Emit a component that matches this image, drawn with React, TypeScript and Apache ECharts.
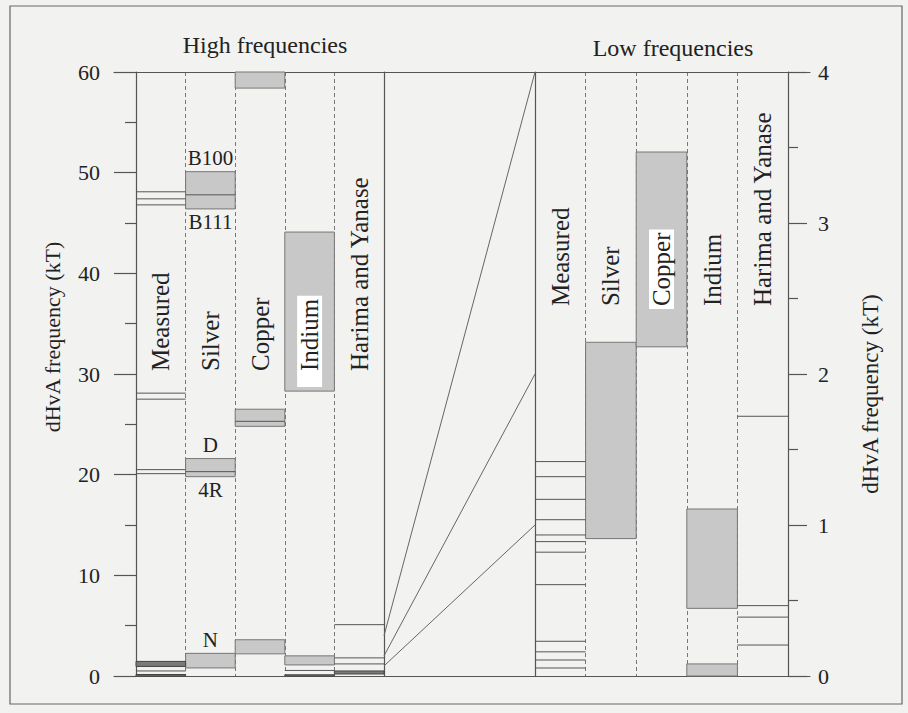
import React, { useEffect, useRef } from "react";
import * as echarts from "echarts";

// ---------- data ----------
const highColumns = ["Measured", "Silver", "Copper", "Indium", "Harima and Yanase"];
const lowColumns = ["Measured", "Silver", "Copper", "Indium", "Harima and Yanase"];

const HIGH_MAX = 60; // kT, left scale
const LOW_MAX = 4; // kT, right scale

// [column, from kT, to kT] — grey bands, high-frequency panel
const highBoxes: number[][] = [
  [1, 46.4, 50.1],
  [1, 19.8, 21.6],
  [1, 0.8, 2.25],
  [2, 58.4, 60],
  [2, 24.8, 26.5],
  [2, 2.2, 3.6],
  [3, 28.3, 44.1],
  [3, 1.1, 2.0],
];
// dark bands, high-frequency panel
const highDarkBoxes: number[][] = [
  [0, 0.95, 1.45],
  [0, 0, 0.15],
  [3, 0, 0.12],
  [4, 0.2, 0.5],
];
// [column, kT] — single frequencies, high-frequency panel
const highLines: number[][] = [
  [0, 48.1], [0, 47.4], [0, 46.8],
  [0, 28.1], [0, 27.5],
  [0, 20.5], [0, 20.1],
  [0, 0.5],
  [1, 47.8], [1, 20.3],
  [2, 25.3],
  [3, 0.55],
  [4, 5.1], [4, 1.8], [4, 1.2],
];
// [column, kT, text, position]
const highBoxLabels: [number, number, string, string][] = [
  [1, 50.1, "B100", "above"],
  [1, 46.4, "B111", "below"],
  [1, 21.6, "D", "above"],
  [1, 19.8, "4R", "below"],
  [1, 2.25, "N", "above"],
];

// low-frequency panel
const lowBoxes: number[][] = [
  [1, 0.91, 2.21],
  [2, 2.18, 3.47],
  [3, 0.448, 1.106],
  [3, 0, 0.08],
];
const lowLines: number[][] = [
  [0, 1.42], [0, 1.32], [0, 1.17], [0, 1.035], [0, 0.934], [0, 0.89],
  [0, 0.82], [0, 0.605], [0, 0.23], [0, 0.16], [0, 0.106], [0, 0.053],
  [4, 1.72], [4, 0.466], [4, 0.39], [4, 0.205],
];

// scale-change guide lines (same kT on both scales)
const fanValues = [4, 2, 1];

// where the vertical column titles start (kT)
const highLabelBase = 30.3;
const lowLabelBase = 2.45;

// ---------- styling ----------
const FONT = '"Liberation Serif", "Times New Roman", serif';
const INK = "#222";
const LINE = "#555";
const BOX_FILL = "#c8c8c8";
const BOX_STROKE = "#777";
const DARK_FILL = "#7a7a7a";

function inBox(boxes: number[][], col: number, v: number) {
  return boxes.some((b) => b[0] === col && b[1] <= v && b[2] >= v);
}

function boxSeries(data: number[][], xi: number, yi: number, fill: string, stroke: string, z: number) {
  return {
    type: "custom",
    xAxisIndex: xi,
    yAxisIndex: yi,
    z,
    silent: true,
    data,
    renderItem: (params: any, api: any) => {
      const c = api.value(0);
      const lo = api.value(1);
      const hi = api.value(2);
      const p1 = api.coord([c, hi]);
      const p2 = api.coord([c + 1, lo]);
      return {
        type: "rect",
        shape: { x: p1[0], y: p1[1], width: p2[0] - p1[0], height: p2[1] - p1[1] },
        style: { fill, stroke, lineWidth: 1 },
      };
    },
  };
}

function lineSeries(data: number[][], xi: number, yi: number, z: number) {
  return {
    type: "custom",
    xAxisIndex: xi,
    yAxisIndex: yi,
    z,
    silent: true,
    data,
    renderItem: (params: any, api: any) => {
      const c = api.value(0);
      const v = api.value(1);
      const a = api.coord([c, v]);
      const b = api.coord([c + 1, v]);
      return {
        type: "line",
        shape: { x1: a[0], y1: a[1], x2: b[0], y2: b[1] },
        style: { stroke: LINE, lineWidth: 1 },
      };
    },
  };
}

function columnLabelSeries(
  names: string[], base: number, boxes: number[][], xi: number, yi: number, pad: number[]
) {
  return {
    type: "custom",
    xAxisIndex: xi,
    yAxisIndex: yi,
    z: 10,
    silent: true,
    data: names.map((_, i) => [i + 0.5, base]),
    renderItem: (params: any, api: any) => {
      const i = params.dataIndex;
      const p = api.coord([api.value(0), api.value(1)]);
      const boxed = inBox(boxes, i, base);
      const offset = boxed ? pad[3] : 0;
      return {
        type: "text",
        x: p[0],
        y: p[1] + offset,
        rotation: Math.PI / 2,
        style: {
          text: names[i],
          fill: INK,
          fontSize: 25,
          fontFamily: FONT,
          align: "left",
          verticalAlign: "middle",
          backgroundColor: boxed ? "#ffffff" : "transparent",
          padding: boxed ? pad : 0,
        },
      };
    },
  };
}

function boxLabelSeries(labels: [number, number, string, string][], xi: number, yi: number) {
  return {
    type: "custom",
    xAxisIndex: xi,
    yAxisIndex: yi,
    z: 10,
    silent: true,
    data: labels.map((l) => [l[0] + 0.5, l[1]]),
    renderItem: (params: any, api: any) => {
      const l = labels[params.dataIndex];
      const p = api.coord([api.value(0), api.value(1)]);
      const above = l[3] === "above";
      return {
        type: "text",
        x: p[0],
        y: above ? p[1] - 3 : p[1] + 3,
        style: {
          text: l[2],
          fill: INK,
          fontSize: 21,
          fontFamily: FONT,
          align: "center",
          verticalAlign: above ? "bottom" : "top",
        },
      };
    },
  };
}

const dashedSplit = { show: true, lineStyle: { color: "#777", type: [4, 3], width: 1 } };
const solidAxisLine = { show: true, onZero: false, lineStyle: { color: LINE, width: 1.2 } };

export default function App() {
  const ref = useRef<HTMLDivElement>(null);

  useEffect(() => {
    if (!ref.current) return;
    const chart = echarts.init(ref.current, undefined, { renderer: "svg" });

    const ratio = HIGH_MAX / LOW_MAX;

    const option: any = {
      animation: false,
      backgroundColor: "transparent",
      grid: [
        { left: 136, top: 72, width: 248, height: 604 }, // high
        { left: 384, top: 72, width: 151, height: 604 }, // scale change
        { left: 535, top: 72, width: 253, height: 604 }, // low
        { left: 114, top: 72, width: 696, height: 604 }, // frame
      ],
      xAxis: [
        {
          gridIndex: 0, type: "value", min: 0, max: 5, interval: 1,
          axisLine: { show: false, onZero: false }, axisTick: { show: false }, axisLabel: { show: false },
          splitLine: dashedSplit,
        },
        { gridIndex: 1, type: "value", min: 0, max: 1, show: false, axisLine: { onZero: false } },
        {
          gridIndex: 2, type: "value", min: 0, max: 5, interval: 1,
          axisLine: { show: false, onZero: false }, axisTick: { show: false }, axisLabel: { show: false },
          splitLine: dashedSplit,
        },
        {
          gridIndex: 3, type: "value", min: 0, max: 1, position: "bottom",
          axisLine: solidAxisLine,
          axisTick: { show: false }, axisLabel: { show: false }, splitLine: { show: false },
        },
        {
          gridIndex: 3, type: "value", min: 0, max: 1, position: "top",
          axisLine: solidAxisLine,
          axisTick: { show: false }, axisLabel: { show: false }, splitLine: { show: false },
        },
      ],
      yAxis: [
        {
          gridIndex: 0, type: "value", min: 0, max: HIGH_MAX, interval: 10, position: "left",
          axisLine: solidAxisLine,
          axisTick: { show: true, length: 22, lineStyle: { color: LINE, width: 1.2 } },
          minorTick: { show: true, splitNumber: 2, length: 11, lineStyle: { color: LINE, width: 1.2 } },
          axisLabel: { margin: 36, color: INK, fontSize: 22, fontFamily: FONT },
          splitLine: { show: false },
        },
        {
          gridIndex: 1, type: "value", min: 0, max: HIGH_MAX, position: "left",
          axisLine: solidAxisLine,
          axisTick: { show: false }, axisLabel: { show: false }, splitLine: { show: false },
        },
        {
          gridIndex: 1, type: "value", min: 0, max: HIGH_MAX, position: "right",
          axisLine: solidAxisLine,
          axisTick: { show: false }, axisLabel: { show: false }, splitLine: { show: false },
        },
        {
          gridIndex: 2, type: "value", min: 0, max: LOW_MAX, interval: 1, position: "right",
          axisLine: solidAxisLine,
          axisTick: { show: true, length: 19, lineStyle: { color: LINE, width: 1.2 } },
          minorTick: { show: true, splitNumber: 2, length: 10, lineStyle: { color: LINE, width: 1.2 } },
          axisLabel: { margin: 30, color: INK, fontSize: 22, fontFamily: FONT },
          splitLine: { show: false },
        },
        { gridIndex: 3, type: "value", min: 0, max: 1, show: false, axisLine: { onZero: false } },
      ],
      series: [
        boxSeries(highBoxes, 0, 0, BOX_FILL, BOX_STROKE, 3),
        boxSeries(highDarkBoxes, 0, 0, DARK_FILL, "#444", 4),
        lineSeries(highLines, 0, 0, 5),
        boxLabelSeries(highBoxLabels, 0, 0),
        columnLabelSeries(highColumns, highLabelBase, highBoxes, 0, 0, [0, 3, 0, 16]),
        {
          type: "custom",
          xAxisIndex: 1,
          yAxisIndex: 1,
          z: 5,
          silent: true,
          data: fanValues.map((v) => [v, v * ratio]),
          renderItem: (params: any, api: any) => {
            const a = api.coord([0, api.value(0)]);
            const b = api.coord([1, api.value(1)]);
            return {
              type: "line",
              shape: { x1: a[0], y1: a[1], x2: b[0], y2: b[1] },
              style: { stroke: "#666", lineWidth: 1 },
            };
          },
        },
        boxSeries(lowBoxes, 2, 3, BOX_FILL, BOX_STROKE, 3),
        lineSeries(lowLines, 2, 3, 5),
        columnLabelSeries(lowColumns, lowLabelBase, lowBoxes, 2, 3, [0, 3, 0, 3]),
      ],
      graphic: [
        {
          type: "rect",
          silent: true,
          shape: { x: 10, y: 6, width: 892, height: 698 },
          style: { fill: "none", stroke: "#666", lineWidth: 1.2 },
        },
        {
          type: "text", x: 265, y: 45, silent: true,
          style: { text: "High frequencies", fill: INK, fontSize: 24, fontFamily: FONT, align: "center", verticalAlign: "middle" },
        },
        {
          type: "text", x: 673, y: 48, silent: true,
          style: { text: "Low frequencies", fill: INK, fontSize: 24, fontFamily: FONT, align: "center", verticalAlign: "middle" },
        },
        {
          type: "text", x: 52, y: 337, rotation: Math.PI / 2, silent: true,
          style: { text: "dHvA frequency (kT)", fill: INK, fontSize: 22, fontFamily: FONT, align: "center", verticalAlign: "middle" },
        },
        {
          type: "text", x: 870, y: 394, rotation: Math.PI / 2, silent: true,
          style: { text: "dHvA frequency (kT)", fill: INK, fontSize: 23, fontFamily: FONT, align: "center", verticalAlign: "middle" },
        },
      ],
    };

    chart.setOption(option);
    return () => chart.dispose();
  }, []);

  return (
    <div
      style={{ position: "fixed", left: 0, top: 0, width: 908, height: 713, background: "#f2f2f0" }}
    >
      <div ref={ref} style={{ width: 908, height: 713 }} />
    </div>
  );
}
